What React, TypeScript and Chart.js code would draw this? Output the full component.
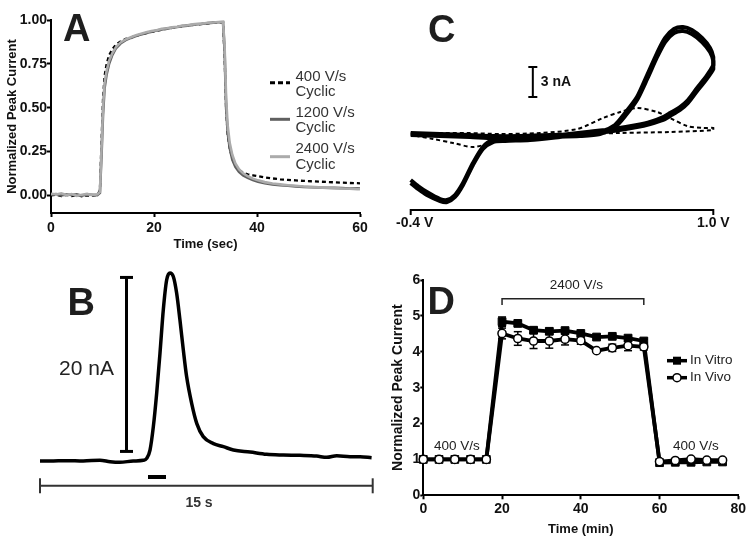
import React, { useEffect, useRef } from "react";
import { Chart, registerables } from "chart.js";
Chart.register(...registerables);

const FONT = "'Liberation Sans', Arial, Helvetica, sans-serif";

// ---------- Panel A ----------
const A_TIME = [0, 1, 2, 3, 4, 5, 6, 7, 8, 9, 9.5, 9.8, 10.1, 10.4, 10.8, 11.3, 11.9, 12.6, 13.5, 14.5, 15.5, 16.5, 17.5, 18.5, 19.5, 20.5, 21.5, 22.5, 23.5, 24.5, 25.5, 26.5, 27.5, 28.5, 29.5, 30.5, 31.5, 32.5, 33.4, 33.7, 34.0, 34.3, 34.7, 35.2, 35.8, 36.5, 37.3, 38.2, 39.2, 40.2, 41.5, 43, 44.5, 46, 47.5, 49, 50.5, 52, 53.5, 55, 56.5, 58, 59.5, 60];
const A_2400 = [0.01, 0.006, 0.012, 0.002, 0.008, -0.002, 0.004, 0.009, 0.001, 0.006,
  0.02, 0.26, 0.5, 0.64, 0.71, 0.77, 0.81, 0.845, 0.872, 0.89,
  0.902, 0.913, 0.922, 0.93, 0.937, 0.942, 0.95, 0.953, 0.958, 0.962,
  0.968, 0.97, 0.975, 0.978, 0.98, 0.984, 0.986, 0.989, 0.99,
  0.86, 0.56, 0.4, 0.3, 0.232, 0.183, 0.15, 0.126, 0.11, 0.096, 0.086,
  0.076, 0.068, 0.063, 0.058, 0.055, 0.051, 0.049, 0.046, 0.043, 0.042, 0.04, 0.038, 0.036, 0.035];
const A_1200 = [0.004, 0.008, 0.0, 0.006, 0.003, 0.007, -0.001, 0.005, 0.004, 0.002,
  0.015, 0.22, 0.46, 0.61, 0.69, 0.752, 0.8, 0.838, 0.866, 0.885,
  0.898, 0.908, 0.918, 0.926, 0.933, 0.94, 0.946, 0.951, 0.956, 0.96,
  0.965, 0.968, 0.972, 0.976, 0.979, 0.982, 0.985, 0.987, 0.988,
  0.83, 0.5, 0.36, 0.27, 0.205, 0.163, 0.134, 0.114, 0.1, 0.088, 0.078,
  0.07, 0.063, 0.058, 0.055, 0.052, 0.049, 0.047, 0.045, 0.044, 0.043, 0.042, 0.04, 0.041, 0.04];
const A_400 = [0.0, 0.005, -0.004, 0.003, -0.003, 0.002, -0.005, 0.0, -0.002, 0.003,
  0.03, 0.3, 0.55, 0.68, 0.75, 0.8, 0.832, 0.86, 0.878, 0.892,
  0.9, 0.91, 0.918, 0.925, 0.932, 0.938, 0.945, 0.95, 0.955, 0.96,
  0.964, 0.968, 0.972, 0.975, 0.978, 0.981, 0.984, 0.986, 0.987,
  0.8, 0.5, 0.35, 0.27, 0.21, 0.17, 0.145, 0.13, 0.12, 0.115, 0.11,
  0.103, 0.097, 0.092, 0.089, 0.086, 0.083, 0.081, 0.079, 0.077, 0.075, 0.073, 0.071, 0.07, 0.069];
const A_Y_TICKS = [0, 0.25, 0.5, 0.75, 1.0];
const A_LEGEND = [
  { lines: ["400 V/s", "Cyclic"], color: "#000000", dash: [5, 3] },
  { lines: ["1200 V/s", "Cyclic"], color: "#606060", dash: [] },
  { lines: ["2400 V/s", "Cyclic"], color: "#ababab", dash: [] },
];

// ---------- Panel B ----------
const B_TIME = [0, 0.45, 1.2, 1.95, 2.7, 3.16, 3.6, 4.2, 4.66, 4.81, 4.96, 5.11, 5.26, 5.41, 5.56, 5.71, 5.86, 6.01, 6.16, 6.31, 6.46, 6.61, 6.84, 7.07, 7.36, 7.82, 8.27, 8.72, 9.47, 10.22, 10.97, 11.72, 12.47, 12.93, 13.38, 13.98, 14.43, 14.95];
const B_CURRENT = [0.0, 0.0, 0.04, 0.0, 0.1, -0.08, -0.15, 0.0, 0.08, 0.3, 1.26, 3.95, 7.78, 12.4, 17.4, 20.8, 21.6, 21.2, 19.3, 16.2, 12.8, 9.7, 6.6, 4.3, 2.8, 2.0, 1.65, 1.26, 1.03, 0.77, 0.69, 0.65, 0.57, 0.42, 0.61, 0.5, 0.5, 0.38];
const B_SCALE_BAR = { t: 3.9, from: 1.1, to: 21.1, label: "20 nA" };
const B_STIM = { from: 4.87, to: 5.68, level: -1.84 };
const B_SPAN = { from: 0, to: 15, level: -2.85, label: "15 s" };

// ---------- Panel C ----------
const C_V = [-0.400, -0.264, -0.126, -0.019, 0.106, 0.245, 0.383, 0.476, 0.545, 0.592, 0.647, 0.694, 0.740, 0.777, 0.818, 0.860, 0.901, 0.948, 0.985, 1.000, 1.000, 0.962, 0.925, 0.883, 0.846, 0.800, 0.768, 0.708, 0.647, 0.536, 0.416, 0.291, 0.152, 0.037, -0.019, -0.066, -0.112, -0.158, -0.195, -0.232, -0.264, -0.325, -0.366, -0.400];
const C_SOLID_1 = [0.4, 0.3, 0.2, 0.1, 0.1, 0.2, 0.3, 0.5, 1.2, 2.4, 4.0, 6.2, 8.4, 9.9, 10.8, 11.0, 10.7, 9.9, 8.9, 8.0, 7.2, 5.9, 4.9, 3.7, 3.0, 2.4, 2.0, 1.5, 1.2, 0.8, 0.5, 0.2, -0.1, -0.2, -0.3, -1.0, -2.6, -4.6, -5.8, -6.3, -6.2, -5.5, -4.9, -4.3];
const C_SOLID_2 = [0.2, 0.1, 0.0, -0.1, -0.1, 0.0, 0.1, 0.3, 1.0, 2.1, 3.7, 5.8, 8.0, 9.5, 10.4, 10.6, 10.3, 9.5, 8.5, 7.6, 6.8, 5.6, 4.6, 3.4, 2.7, 2.1, 1.7, 1.3, 1.0, 0.6, 0.3, 0.0, -0.3, -0.4, -0.5, -1.2, -2.8, -4.8, -6.0, -6.5, -6.4, -5.8, -5.2, -4.6];
const C_DASH_V = [-0.400, -0.297, -0.140, 0.013, 0.198, 0.370, 0.490, 0.569, 0.647, 0.740, 0.800, 0.879, 0.953, 1.000, 1.000, 0.800, 0.569, 0.291, 0.037, -0.033, -0.112, -0.204, -0.297, -0.400];
const C_DASH_NA = [0.4, 0.4, 0.4, 0.3, 0.4, 0.8, 1.9, 2.5, 2.9, 2.5, 1.9, 1.1, 0.9, 0.9, 0.7, 0.5, 0.4, 0.2, 0.0, -0.6, -1.0, -0.6, -0.2, 0.2];
const C_AXIS = [{ v: -0.4, label: "-0.4 V" }, { v: 1.0, label: "1.0 V" }];
const C_SCALE_BAR = { v: 0.165, from: 4, to: 7, label: "3 nA" };

// ---------- Panel D ----------
const D_TIME = [0, 4, 8, 12, 16, 20, 24, 28, 32, 36, 40, 44, 48, 52, 56, 60, 64, 68, 72, 76];
const D_VITRO = [1, 1, 1, 1, 1, 4.84, 4.79, 4.6, 4.57, 4.59, 4.51, 4.41, 4.43, 4.38, 4.3, 0.91, 0.92, 0.92, 0.93, 0.93];
const D_VITRO_ERR = [0.02, 0.02, 0.02, 0.02, 0.02, 0.13, 0.07, 0.08, 0.08, 0.05, 0.05, 0.03, 0.04, 0.04, 0.05, 0.03, 0.03, 0.03, 0.03, 0.03];
const D_VIVO = [1, 1, 1, 1, 1, 4.51, 4.37, 4.3, 4.3, 4.35, 4.31, 4.03, 4.11, 4.17, 4.14, 0.94, 0.97, 1.01, 0.98, 0.98];
const D_VIVO_ERR = [0.01, 0.01, 0.01, 0.01, 0.01, 0.15, 0.19, 0.21, 0.2, 0.16, 0.1, 0.02, 0.1, 0.14, 0.09, 0.03, 0.03, 0.03, 0.03, 0.03];
const D_BRACKET = { from: 20, to: 56, level: 5.48, tickTo: 5.3, label: "2400 V/s", labelX: 38.9, labelY: 5.86 };
const D_NOTES = [{ x: 8.5, y: 1.37, text: "400 V/s" }, { x: 69.2, y: 1.37, text: "400 V/s" }];

function pts(xs: number[], ys: number[]) {
  return xs.map((x, i) => ({ x, y: ys[i] }));
}

function text(ctx: CanvasRenderingContext2D, s: string, x: number, y: number, font: string, align: CanvasTextAlign = "left", color = "#1e1e1e") {
  ctx.save();
  ctx.font = font;
  ctx.fillStyle = color;
  ctx.textAlign = align;
  ctx.textBaseline = "middle";
  ctx.fillText(s, x, y);
  ctx.restore();
}

function letter(ctx: CanvasRenderingContext2D, s: string, x: number, baseline: number) {
  ctx.save();
  ctx.font = `bold 38px ${FONT}`;
  ctx.fillStyle = "#1e1e1e";
  ctx.textAlign = "left";
  ctx.textBaseline = "alphabetic";
  ctx.fillText(s, x, baseline);
  ctx.restore();
}

function line(ctx: CanvasRenderingContext2D, x1: number, y1: number, x2: number, y2: number, w: number, color = "#000", dash: number[] = []) {
  ctx.save();
  ctx.strokeStyle = color;
  ctx.lineWidth = w;
  ctx.setLineDash(dash);
  ctx.beginPath();
  ctx.moveTo(x1, y1);
  ctx.lineTo(x2, y2);
  ctx.stroke();
  ctx.restore();
}

const tickFont = { family: FONT, size: 14, weight: "bold" as const };
const titleFont13 = { family: FONT, size: 13, weight: "bold" as const };
const titleFont14 = { family: FONT, size: 14, weight: "bold" as const };

function baseOptions(padding: any) {
  return {
    responsive: false,
    animation: false,
    devicePixelRatio: 1,
    layout: { padding },
    plugins: { legend: { display: false }, tooltip: { enabled: false } },
    elements: { point: { radius: 0 } },
  };
}

function makeA(): any {
  const plugin = {
    id: "panelA",
    afterDraw(chart: any) {
      const ctx = chart.ctx;
      letter(ctx, "A", 63, 41);
      const rows = [[76.7, 91.7, 82.7], [112.7, 128.3, 119.3], [149.3, 165, 156.7]];
      A_LEGEND.forEach((item, i) => {
        const [y1, y2, ly] = rows[i];
        line(ctx, 270, ly, 290, ly, 3, item.color, item.dash);
        text(ctx, item.lines[0], 295.5, y1, `15px ${FONT}`, "left", "#333");
        text(ctx, item.lines[1], 295.5, y2, `15px ${FONT}`, "left", "#333");
      });
    },
  };
  return {
    type: "line",
    data: {
      datasets: [
        { label: "2400 V/s Cyclic", data: pts(A_TIME, A_2400), borderColor: "#ababab", borderWidth: 2.6, order: 0 },
        { label: "1200 V/s Cyclic", data: pts(A_TIME, A_1200), borderColor: "#606060", borderWidth: 2.6, order: 1 },
        { label: "400 V/s Cyclic", data: pts(A_TIME, A_400), borderColor: "#000000", borderWidth: 2.3, borderDash: [4, 3], order: 2 },
      ],
    },
    options: {
      ...baseOptions({ left: 0, right: 15, top: 20, bottom: 0 }),
      scales: {
        x: {
          type: "linear", min: 0, max: 60,
          afterFit: (s: any) => { s.height = 52; },
          ticks: { stepSize: 20, font: tickFont, color: "#111", padding: 3, maxRotation: 0 },
          grid: { drawOnChartArea: false, drawTicks: true, tickLength: 4, tickColor: "#000", tickWidth: 2 },
          border: { color: "#000", width: 2 },
          title: { display: true, text: "Time (sec)", font: titleFont13, color: "#111", padding: { top: 0, bottom: 12.9 } },
        },
        y: {
          type: "linear", min: -0.1, max: 1.0,
          afterFit: (s: any) => { s.width = 51; },
          afterBuildTicks: (s: any) => { s.ticks = A_Y_TICKS.map((v) => ({ value: v })); },
          ticks: { font: tickFont, color: "#111", padding: 0, callback: (v: any) => Number(v).toFixed(2) },
          grid: { drawOnChartArea: false, drawTicks: true, tickLength: 4, tickColor: "#000", tickWidth: 2 },
          border: { color: "#000", width: 2 },
          title: { display: true, text: "Normalized Peak Current", font: titleFont13, color: "#111", padding: { top: 4.2, bottom: 0 } },
        },
      },
    },
    plugins: [plugin],
  };
}

function makeB(): any {
  const plugin = {
    id: "panelB",
    afterDraw(chart: any) {
      const ctx = chart.ctx;
      const xs = chart.scales.x, ys = chart.scales.y;
      letter(ctx, "B", 67.5, 55);
      const bx = xs.getPixelForValue(B_SCALE_BAR.t);
      const by1 = ys.getPixelForValue(B_SCALE_BAR.from);
      const by2 = ys.getPixelForValue(B_SCALE_BAR.to);
      line(ctx, bx, by1, bx, by2, 3);
      line(ctx, bx - 6.5, by1, bx + 6.5, by1, 3);
      line(ctx, bx - 6.5, by2, bx + 6.5, by2, 3);
      text(ctx, B_SCALE_BAR.label, bx - 12.5, 109.3, `21px ${FONT}`, "right", "#222");
      const sy = ys.getPixelForValue(B_STIM.level);
      line(ctx, xs.getPixelForValue(B_STIM.from), sy, xs.getPixelForValue(B_STIM.to), sy, 4);
      const ly = ys.getPixelForValue(B_SPAN.level);
      const lx1 = xs.getPixelForValue(B_SPAN.from), lx2 = xs.getPixelForValue(B_SPAN.to);
      line(ctx, lx1, ly, lx2, ly, 2, "#333");
      line(ctx, lx1, ly - 7.5, lx1, ly + 7.5, 2, "#333");
      line(ctx, lx2, ly - 7.5, lx2, ly + 7.5, 2, "#333");
      text(ctx, B_SPAN.label, 199, 243.3, `bold 14px ${FONT}`, "center", "#333");
    },
  };
  return {
    type: "line",
    data: {
      datasets: [
        { label: "Current", data: pts(B_TIME, B_CURRENT), borderColor: "#000", borderWidth: 3.5, cubicInterpolationMode: "monotone", clip: false },
      ],
    },
    options: {
      ...baseOptions({ left: 40, right: 7.3, top: 9.6, bottom: 57.9 }),
      scales: {
        x: { type: "linear", min: 0, max: 15, display: false },
        y: { type: "linear", min: -3, max: 22, display: false },
      },
    },
    plugins: [plugin],
  };
}

function makeC(): any {
  const plugin = {
    id: "panelC",
    afterDraw(chart: any) {
      const ctx = chart.ctx;
      const xs = chart.scales.x, ys = chart.scales.y;
      letter(ctx, "C", 48, 42);
      const y0 = chart.chartArea.bottom;
      const x1 = xs.getPixelForValue(C_AXIS[0].v), x2 = xs.getPixelForValue(C_AXIS[1].v);
      line(ctx, x1, y0, x2, y0, 2);
      line(ctx, x1, y0 - 1, x1, y0 + 5, 2);
      line(ctx, x2, y0 - 1, x2, y0 + 5, 2);
      text(ctx, C_AXIS[0].label, x1 + 4, 223, `bold 14px ${FONT}`, "center", "#111");
      text(ctx, C_AXIS[1].label, x2, 223, `bold 14px ${FONT}`, "center", "#111");
      const sx = xs.getPixelForValue(C_SCALE_BAR.v);
      const s1 = ys.getPixelForValue(C_SCALE_BAR.from), s2 = ys.getPixelForValue(C_SCALE_BAR.to);
      line(ctx, sx, s1, sx, s2, 2);
      line(ctx, sx - 4.5, s1, sx + 4.5, s1, 2);
      line(ctx, sx - 4.5, s2, sx + 4.5, s2, 2);
      text(ctx, C_SCALE_BAR.label, sx + 8, (s1 + s2) / 2, `bold 14px ${FONT}`, "left", "#111");
    },
  };
  return {
    type: "line",
    data: {
      datasets: [
        { label: "Cyclic A", data: pts(C_V, C_SOLID_1), borderColor: "#000", borderWidth: 4, tension: 0.25, clip: false },
        { label: "Cyclic B", data: pts(C_V, C_SOLID_2), borderColor: "#000", borderWidth: 4, tension: 0.25, clip: false },
        { label: "Dashed", data: pts(C_DASH_V, C_DASH_NA), borderColor: "#000", borderWidth: 2, borderDash: [4, 3], tension: 0.3, clip: false },
      ],
    },
    options: {
      ...baseOptions({ left: 30.7, right: 37.7, top: 10, bottom: 60 }),
      scales: {
        x: { type: "linear", min: -0.4, max: 1.0, display: false },
        y: { type: "linear", min: -7.3, max: 12.7, display: false },
      },
    },
    plugins: [plugin],
  };
}

function makeD(): any {
  const errPlugin = {
    id: "panelD",
    beforeDatasetsDraw(chart: any) {
      const ctx = chart.ctx;
      const xs = chart.scales.x, ys = chart.scales.y;
      const draw = (vals: number[], errs: number[]) => {
        D_TIME.forEach((t, i) => {
          const e = errs[i];
          if (e < 0.04) return;
          const x = xs.getPixelForValue(t);
          const yt = ys.getPixelForValue(vals[i] + e), yb = ys.getPixelForValue(vals[i] - e);
          line(ctx, x, yt, x, yb, 1.5);
          line(ctx, x - 4, yt, x + 4, yt, 1.5);
          line(ctx, x - 4, yb, x + 4, yb, 1.5);
        });
      };
      draw(D_VITRO, D_VITRO_ERR);
      draw(D_VIVO, D_VIVO_ERR);
    },
    afterDraw(chart: any) {
      const ctx = chart.ctx;
      const xs = chart.scales.x, ys = chart.scales.y;
      letter(ctx, "D", 47.5, 54);
      const bx1 = xs.getPixelForValue(D_BRACKET.from), bx2 = xs.getPixelForValue(D_BRACKET.to);
      const by = ys.getPixelForValue(D_BRACKET.level), bt = ys.getPixelForValue(D_BRACKET.tickTo);
      line(ctx, bx1, by, bx2, by, 1.5, "#222");
      line(ctx, bx1, by - 0.75, bx1, bt, 1.5, "#222");
      line(ctx, bx2, by - 0.75, bx2, bt, 1.5, "#222");
      text(ctx, D_BRACKET.label, xs.getPixelForValue(D_BRACKET.labelX), ys.getPixelForValue(D_BRACKET.labelY), `13.5px ${FONT}`, "center", "#222");
      D_NOTES.forEach((n) => text(ctx, n.text, xs.getPixelForValue(n.x), ys.getPixelForValue(n.y), `13.5px ${FONT}`, "center", "#222"));
      // legend
      const rows = [100.7, 117.7];
      line(ctx, 287, rows[0], 307, rows[0], 3.5);
      ctx.save();
      ctx.fillStyle = "#000";
      ctx.fillRect(297 - 4, rows[0] - 4, 8, 8);
      ctx.restore();
      text(ctx, "In Vitro", 310, rows[0], `13.5px ${FONT}`, "left", "#222");
      line(ctx, 287, rows[1], 307, rows[1], 3.5);
      ctx.save();
      ctx.fillStyle = "#fff";
      ctx.strokeStyle = "#000";
      ctx.lineWidth = 1.5;
      ctx.beginPath();
      ctx.arc(297, rows[1], 4, 0, Math.PI * 2);
      ctx.fill();
      ctx.stroke();
      ctx.restore();
      text(ctx, "In Vivo", 310, rows[1], `13.5px ${FONT}`, "left", "#222");
    },
  };
  return {
    type: "line",
    data: {
      datasets: [
        { label: "In Vitro", data: pts(D_TIME, D_VITRO), borderColor: "#000", borderWidth: 3.8, pointStyle: "rect", pointRadius: 5.5, pointBackgroundColor: "#000", pointBorderColor: "#000", pointBorderWidth: 1, order: 2, clip: false },
        { label: "In Vivo", data: pts(D_TIME, D_VIVO), borderColor: "#000", borderWidth: 3.8, pointStyle: "circle", pointRadius: 4.1, pointBackgroundColor: "#fff", pointBorderColor: "#000", pointBorderWidth: 1.5, order: 1, clip: false },
      ],
    },
    options: {
      ...baseOptions({ left: 0, right: 12.7, top: 20, bottom: 0 }),
      scales: {
        x: {
          type: "linear", min: 0, max: 80,
          afterFit: (s: any) => { s.height = 49.7; },
          ticks: { stepSize: 20, font: tickFont, color: "#111", padding: 1, maxRotation: 0 },
          grid: { drawOnChartArea: false, drawTicks: true, tickLength: 4, tickColor: "#000", tickWidth: 2 },
          border: { color: "#000", width: 2 },
          title: { display: true, text: "Time (min)", font: titleFont13, color: "#111", padding: { top: 0, bottom: 7.9 } },
        },
        y: {
          type: "linear", min: 0, max: 6,
          afterFit: (s: any) => { s.width = 43.3; },
          ticks: { stepSize: 1, font: tickFont, color: "#111", padding: 0 },
          grid: { drawOnChartArea: false, drawTicks: true, tickLength: 3, tickColor: "#000", tickWidth: 2 },
          border: { color: "#000", width: 2 },
          title: { display: true, text: "Normalized Peak Current", font: titleFont14, color: "#111", padding: { top: 9.6, bottom: 0 } },
        },
      },
    },
    plugins: [errPlugin],
  };
}

function ChartBox({ left, top, width, height, make }: { left: number; top: number; width: number; height: number; make: () => any }) {
  const ref = useRef<HTMLCanvasElement>(null);
  useEffect(() => {
    const chart = new Chart(ref.current as HTMLCanvasElement, make());
    return () => chart.destroy();
  }, []);
  return <canvas ref={ref} width={width} height={height} style={{ position: "absolute", left, top, width, height }} />;
}

export default function App() {
  return (
    <div style={{ position: "fixed", left: 0, top: 0, width: 751, height: 545, background: "#fff", overflow: "hidden" }}>
      <ChartBox left={0} top={0} width={375} height={265} make={makeA} />
      <ChartBox left={380} top={0} width={371} height={270} make={makeC} />
      <ChartBox left={0} top={260} width={380} height={285} make={makeB} />
      <ChartBox left={380} top={260} width={371} height={285} make={makeD} />
    </div>
  );
}
